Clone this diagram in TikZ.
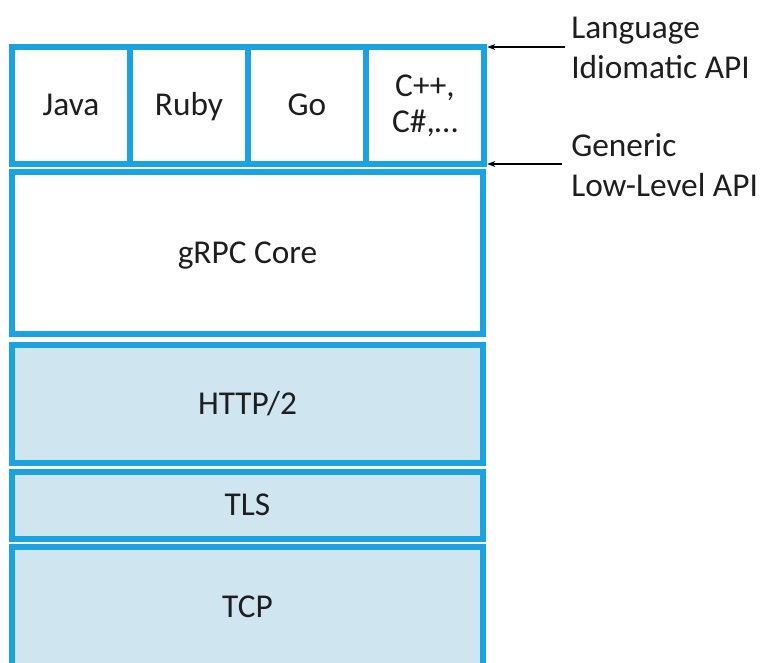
\documentclass[tikz,border=0pt]{standalone}
\usepackage{fontspec}
\setmainfont{Carlito}
\usetikzlibrary{arrows.meta}
\definecolor{bord}{RGB}{27,163,225}
\definecolor{lite}{RGB}{207,230,240}
\definecolor{txt}{RGB}{30,30,30}
\begin{document}
\begin{tikzpicture}[x=0.75pt,y=-0.75pt,
  layer/.style={draw=bord,line width=3.8pt,inner sep=0pt,outer sep=0pt,
    text=txt,font=\fontsize{25}{27}\selectfont,align=center},
  oneline/.style={text height=19.5pt,text depth=4pt},
  cell/.style={layer,fill=white,minimum width=88.5pt,minimum height=87.75pt},
  note/.style={text=txt,font=\fontsize{25}{30}\selectfont,align=left,anchor=west,inner sep=0pt},
  pointer/.style={draw=black,line width=0.8pt,-{Stealth[length=6pt,width=4.5pt]}}]
\useasboundingbox (0,0) rectangle (768,662);
% language cells
\node[cell,oneline] (java) at (71,105.5) {Java};
\node[cell,oneline] (ruby) at (189,105.5) {Ruby};
\node[cell,oneline] (go) at (307,105.5) {Go};
\node[cell] (cpp) at (425,105.5) {C++,\\C\#,\dots};
% stack
\node[layer,oneline,fill=white,minimum width=353.25pt,minimum height=121.5pt] (core) at (247.5,253) {gRPC Core};
\node[layer,oneline,fill=lite,minimum width=353.25pt,minimum height=88.5pt] (http) at (247.5,404) {HTTP/2};
\node[layer,oneline,fill=lite,minimum width=353.25pt,minimum height=50.25pt] (tls) at (247.5,505.5) {TLS};
\node[layer,oneline,fill=lite,minimum width=353.25pt,minimum height=90.75pt] (tcp) at (247.5,607.5) {TCP};
% notes
\node[note] (lang) at (571,48) {Language\\Idiomatic API};
\node[note] (gen) at (571,165) {Generic\\Low-Level API};
\coordinate (a1) at (565,47);
\coordinate (a2) at (562,164);
\draw[pointer] (a1) -- ([xshift=2.5pt]cpp.north east);
\draw[pointer] (a2) -- ([xshift=2.5pt]cpp.south east);
\end{tikzpicture}
\end{document}
